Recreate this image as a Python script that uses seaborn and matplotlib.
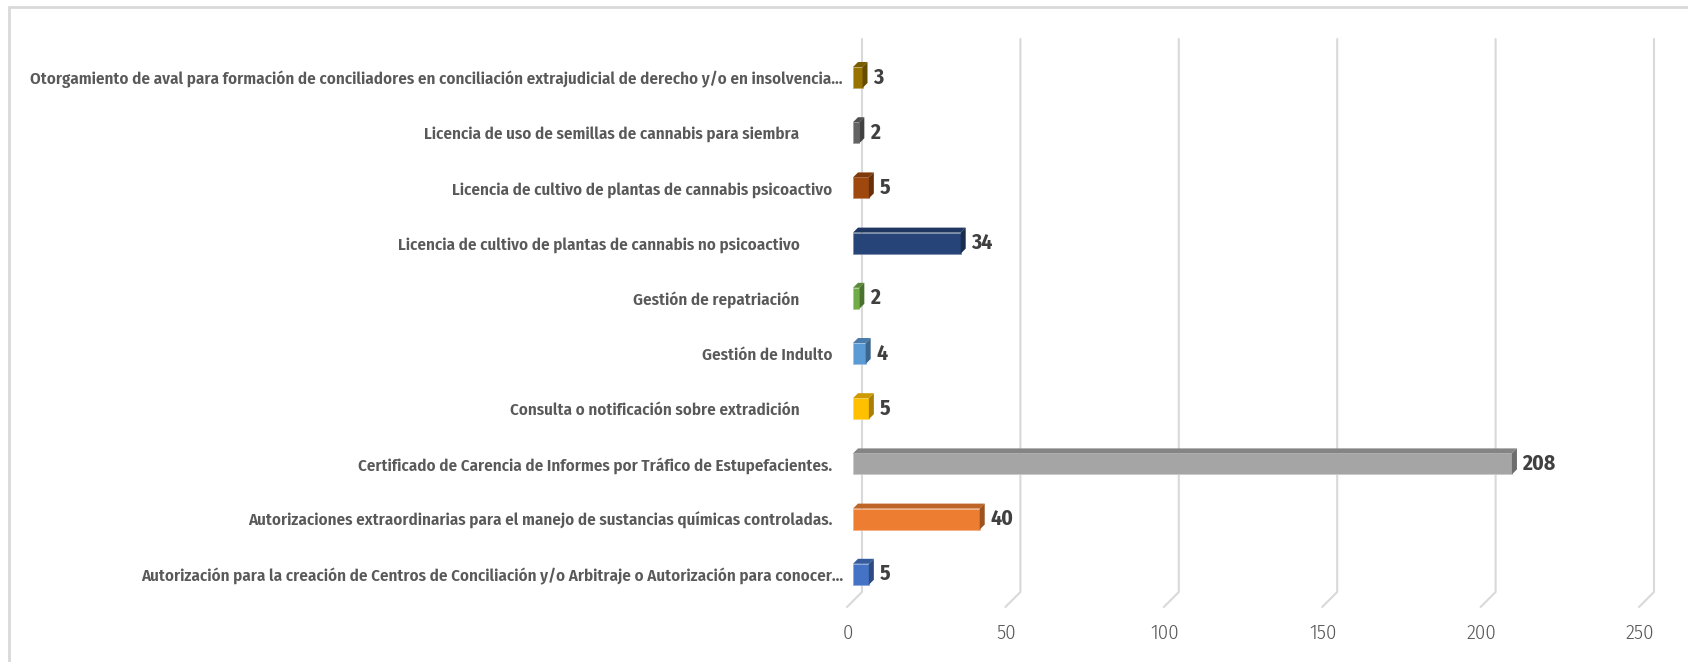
import matplotlib
matplotlib.use("Agg")
import matplotlib.pyplot as plt
import seaborn as sns
import numpy as np
import pandas as pd
from matplotlib.lines import Line2D
from matplotlib.patches import Polygon
from matplotlib.transforms import IdentityTransform
import matplotlib.colors as mcolors

# ---- data (top to bottom) ----
categories = [
    "Otorgamiento de aval para formación de conciliadores en conciliación extrajudicial de derecho y/o en insolvencia...",
    "Licencia de uso de semillas de cannabis para siembra            ",
    "Licencia de cultivo de plantas de cannabis psicoactivo   ",
    "Licencia de cultivo de plantas de cannabis no psicoactivo            ",
    "Gestión de repatriación            ",
    "Gestión de Indulto   ",
    "Consulta o notificación sobre extradición            ",
    "Certificado de Carencia de Informes por Tráfico de Estupefacientes.   ",
    "Autorizaciones extraordinarias para el manejo de sustancias químicas controladas.   ",
    "Autorización para la creación de Centros de Conciliación y/o Arbitraje o Autorización para conocer...",
]
values = [3, 2, 5, 34, 2, 4, 5, 208, 40, 5]
colors = ["#997300", "#636363", "#9E480E", "#264478", "#70AD47",
          "#5B9BD5", "#FFC000", "#A5A5A5", "#ED7D31", "#4472C4"]
xticks = [0, 50, 100, 150, 200, 250]

df = pd.DataFrame({"cat": categories, "val": values})

sns.set_style("white")
plt.rcParams["font.family"] = ["Fira Sans Condensed", "DejaVu Sans"]

W, H = 1688, 662
fig = plt.figure(figsize=(W / 100, H / 100), dpi=100)
ax_left, ax_right = 853, 1645
ax_top, ax_bot = 39, 592
ax = fig.add_axes([ax_left / W, (H - ax_bot) / H, (ax_right - ax_left) / W, (ax_bot - ax_top) / H])

sns.barplot(data=df, x="val", y="cat", hue="cat", palette=colors, legend=False,
            width=0.38, orient="h", ax=ax, saturation=1, zorder=3)

ax.set_xlim(0, 250)
ax.set_ylim(9.321, -0.6975)
for s in ax.spines.values():
    s.set_visible(False)
ax.set_xlabel("")
ax.set_ylabel("")
ax.set_xticks(xticks)
ax.tick_params(axis="x", length=0, labelbottom=False)
ax.tick_params(axis="y", length=0, pad=7.2, labelsize=12.2, labelcolor="#595959")
for lab in ax.get_yticklabels():
    lab.set_fontweight(600)

fig.canvas.draw()
T = ax.transData.transform
grid_c = "#D9D9D9"
# 3D-ish gridlines
for t in xticks:
    xb, _ = T((t, 0))
    xs = [xb + 9, xb + 9, xb - 6]
    ys = [H - ax_top, H - ax_bot, H - ax_bot - 15]
    ax.add_line(Line2D(xs, ys, transform=IdentityTransform(), color=grid_c,
                       lw=1.5, zorder=0.5, clip_on=False))
    fig.text((xb - 5) / W, (H - 633) / H, str(t), ha="center", va="center",
             fontsize=15, color="#595959", fontweight=300)

# 3D faces for bars
d = 5
for p, c, v in zip(ax.patches, colors, values):
    x0, y0 = p.get_x(), p.get_y()
    w, h = p.get_width(), p.get_height()
    (px0, py_a) = T((x0, y0))
    (px1, py_b) = T((x0 + w, y0 + h))
    top = max(py_a, py_b)
    bot = min(py_a, py_b)
    rgb = np.array(mcolors.to_rgb(c))
    p.set_edgecolor(tuple(np.clip(rgb * 0.6 + 0.4, 0, 1)))
    p.set_linewidth(0.6)
    top_face = Polygon([(px0, top), (px1, top), (px1 + d, top + d), (px0 + d, top + d)],
                       closed=True, transform=IdentityTransform(),
                       facecolor=tuple(rgb * 0.80), edgecolor="none", zorder=3.1, clip_on=False)
    side_face = Polygon([(px1, top), (px1 + d, top + d), (px1 + d, bot + d), (px1, bot)],
                        closed=True, transform=IdentityTransform(),
                        facecolor=tuple(rgb * 0.66), edgecolor="none", zorder=3.1, clip_on=False)
    ax.add_patch(top_face)
    ax.add_patch(side_face)
    yc = y0 + h / 2
    ax.annotate(str(v), xy=(x0 + w, yc), xytext=(7.5, 0), textcoords="offset points",
                ha="left", va="center", fontsize=15.5, fontweight="bold", color="#404040",
                zorder=4)

# outer border (top and left visible)
fig.add_artist(Line2D([9 / W, 1.0], [(H - 7) / H, (H - 7) / H], transform=fig.transFigure,
                      color=grid_c, lw=2))
fig.add_artist(Line2D([9 / W, 9 / W], [0, (H - 7) / H], transform=fig.transFigure,
                      color=grid_c, lw=2))

fig.savefig("out.png", dpi=100, facecolor="white")
